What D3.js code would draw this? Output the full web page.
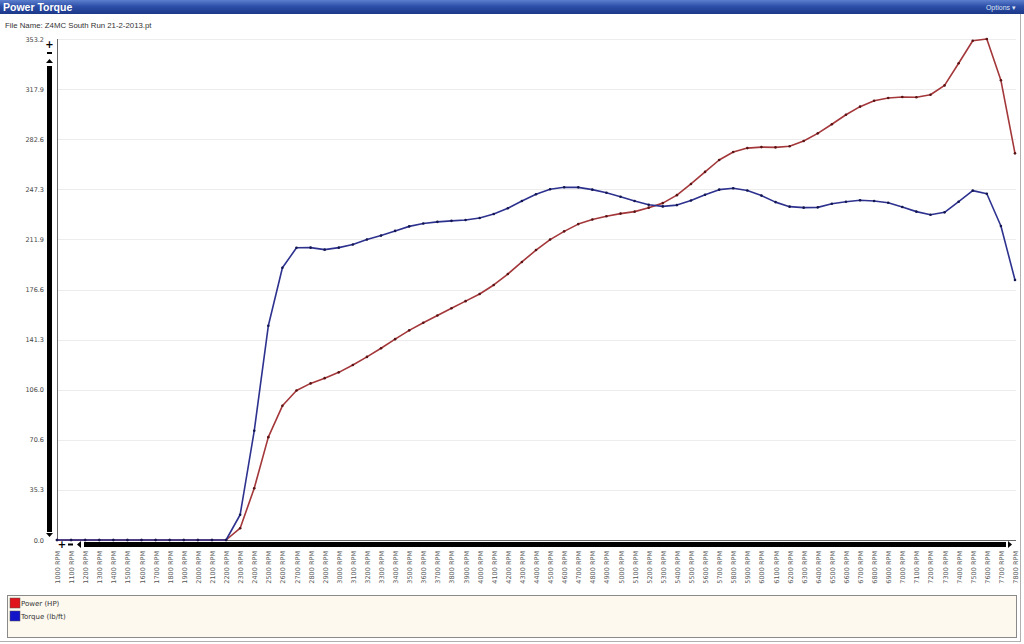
<!DOCTYPE html>
<html>
<head>
<meta charset="utf-8">
<script src="https://cdn.jsdelivr.net/npm/d3@7"></script>
<style>
  body { margin: 0; background: #fff; }
  svg { display: block; font-family: "DejaVu Sans", Verdana, sans-serif; }
</style>
</head>
<body>
<div id="chart"></div>
<script>
// rpm categories
const rpm = [1000, 1100, 1200, 1300, 1400, 1500, 1600, 1700, 1800, 1900, 2000, 2100, 2200,
  2300, 2400, 2500, 2600, 2700, 2800, 2900, 3000, 3100, 3200, 3300, 3400, 3500, 3600, 3700,
  3800, 3900, 4000, 4100, 4200, 4300, 4400, 4500, 4600, 4700, 4800, 4900, 5000, 5100, 5200,
  5300, 5400, 5500, 5600, 5700, 5800, 5900, 6000, 6100, 6200, 6300, 6400, 6500, 6600, 6700,
  6800, 6900, 7000, 7100, 7200, 7300, 7400, 7500, 7600, 7700, 7800];

// power (HP)
const power = [0, 0, 0, 0, 0, 0, 0, 0, 0, 0, 0, 0, 0,
  8.3, 36.5, 72.5, 94.6, 105.4, 110.4, 114.1, 118.2, 123.4, 129.1, 135.2, 141.6, 147.8, 153.2,
  158.3, 163.4, 168.4, 173.4, 179.8, 187.5, 196.0, 204.4, 211.8, 217.6, 222.7, 226.0, 228.2,
  230.1, 231.5, 234.3, 237.5, 243.1, 251.0, 259.5, 267.9, 273.5, 276.3, 277.0, 276.8, 277.6,
  281.3, 286.7, 293.1, 299.8, 305.5, 309.7, 311.6, 312.3, 312.1, 313.9, 320.5, 336.1, 352.0,
  353.2, 324.1, 272.6];

// torque (lb/ft)
const torque = [0, 0, 0, 0, 0, 0, 0, 0, 0, 0, 0, 0, 0,
  17.8, 77.0, 151.0, 191.9, 206.0, 206.1, 204.7, 206.1, 208.3, 211.8, 214.6, 217.9, 221.1, 223.1,
  224.3, 225.0, 225.6, 227.0, 229.8, 233.9, 239.0, 243.8, 247.3, 248.7, 248.6, 247.0, 244.8,
  242.0, 239.0, 236.4, 235.2, 236.1, 239.3, 243.4, 247.0, 248.0, 246.4, 242.8, 238.2, 235.0,
  234.3, 234.5, 237.1, 238.5, 239.5, 239.0, 237.8, 234.8, 231.5, 229.3, 231.0, 238.5, 246.3,
  244.1, 221.4, 183.3];

// y tick labels
const yTicks = [0, 35.32, 70.64, 105.96, 141.28, 176.6, 211.92, 247.24, 282.56, 317.88, 353.2];
const yLabels = ["0.0", "35.3", "70.6", "106.0", "141.3", "176.6", "211.9", "247.3", "282.6", "317.9", "353.2"];

const seriesNames = ["Power (HP)", "Torque (lb/ft)"];

const width = 1024, height = 644;
const plotLeft = 57, plotRight = 1015, plotTop = 39, plotBottom = 540;

const svg = d3.select("#chart").append("svg")
  .attr("width", width)
  .attr("height", height);

// title bar gradient
const defs = svg.append("defs");
const grad = defs.append("linearGradient").attr("id", "titlebar")
  .attr("x1", 0).attr("y1", 0).attr("x2", 0).attr("y2", 1);
grad.append("stop").attr("offset", "0%").attr("stop-color", "#5d7fce");
grad.append("stop").attr("offset", "45%").attr("stop-color", "#2d4fa8");
grad.append("stop").attr("offset", "100%").attr("stop-color", "#1c3888");

svg.append("rect")
  .attr("x", 0).attr("y", 0)
  .attr("width", width).attr("height", 14)
  .attr("fill", "url(#titlebar)");

svg.append("text")
  .attr("x", 3).attr("y", 11)
  .attr("fill", "#fff")
  .attr("font-family", "Liberation Sans, Arial, sans-serif")
  .attr("font-size", 10.5)
  .attr("font-weight", "bold")
  .text("Power Torque");

svg.append("text")
  .attr("x", 1016).attr("y", 10)
  .attr("text-anchor", "end")
  .attr("fill", "#dfe6f7")
  .attr("font-family", "Liberation Sans, Arial, sans-serif")
  .attr("font-size", 7)
  .text("Options \u25BE");

// frame lines
svg.append("line")
  .attr("x1", 1020.5).attr("x2", 1020.5).attr("y1", 14).attr("y2", 641)
  .attr("stroke", "#b0b0b0");
svg.append("line")
  .attr("x1", 0).attr("x2", 1021).attr("y1", 641.5).attr("y2", 641.5)
  .attr("stroke", "#b0b0b0");

// file name
svg.append("text")
  .attr("x", 5).attr("y", 28)
  .attr("fill", "#333")
  .attr("font-family", "Liberation Sans, Arial, sans-serif")
  .attr("font-size", 7.8)
  .text("File Name: Z4MC South Run 21-2-2013.pt");

// scales
const x = d3.scalePoint()
  .domain(rpm)
  .range([plotLeft, plotRight]);

const y = d3.scaleLinear()
  .domain([0, 353.2])
  .range([plotBottom, plotTop]);

// grid lines
svg.append("g")
  .selectAll("line")
  .data(yTicks)
  .enter()
  .append("line")
  .attr("x1", plotLeft).attr("x2", 1016)
  .attr("y1", d => Math.round(y(d)) + 0.5)
  .attr("y2", d => Math.round(y(d)) + 0.5)
  .attr("stroke", "#ececec");

// y axis
const yAxis = svg.append("g")
  .attr("transform", "translate(" + 44 + ",0)")
  .call(d3.axisLeft(y).tickValues(yTicks).tickSize(0).tickPadding(0)
    .tickFormat((d, i) => yLabels[i]));
yAxis.select(".domain").remove();
yAxis.selectAll("text")
  .attr("font-size", 6.5)
  .attr("fill", "#444")
  .attr("font-family", "DejaVu Sans, sans-serif")
  .attr("text-anchor", "end")
  .attr("dy", "0.32em");

svg.append("line")
  .attr("x1", plotLeft + 0.5).attr("x2", plotLeft + 0.5).attr("y1", plotTop).attr("y2", plotBottom + 1)
  .attr("stroke", "#666");
svg.append("line")
  .attr("x1", plotLeft).attr("x2", 1016).attr("y1", plotBottom + 0.5).attr("y2", plotBottom + 0.5)
  .attr("stroke", "#666");

// x axis labels (rotated)
const xAxis = svg.append("g")
  .attr("transform", "translate(0," + 551 + ")")
  .call(d3.axisBottom(x).tickSize(0).tickPadding(0).tickFormat(d => d + " RPM"));
xAxis.select(".domain").remove();
xAxis.selectAll("text")
  .attr("font-size", 6.5)
  .attr("fill", "#555")
  .attr("font-family", "DejaVu Sans, sans-serif")
  .attr("text-anchor", "end")
  .attr("dy", null)
  .attr("y", 0)
  .attr("transform", "translate(2.5,0) rotate(-90)");

// vertical scroll control
svg.append("rect")
  .attr("x", 47).attr("y", 66).attr("width", 5).attr("height", 466)
  .attr("fill", "#000");
svg.append("text").attr("x", 49.5).attr("y", 48).attr("text-anchor", "middle")
  .attr("font-size", 10).attr("font-weight", "bold").text("+");
svg.append("rect").attr("x", 47).attr("y", 52).attr("width", 5).attr("height", 2).attr("fill", "#000");
svg.append("path").attr("d", "M46,63 L49.5,59 L53,63 Z").attr("fill", "#000");
svg.append("path").attr("d", "M46,533 L49.5,537 L53,533 Z").attr("fill", "#000");

// horizontal scroll control
svg.append("rect")
  .attr("x", 84).attr("y", 542).attr("width", 922).attr("height", 5)
  .attr("fill", "#000");
svg.append("text").attr("x", 62).attr("y", 548).attr("text-anchor", "middle")
  .attr("font-size", 10).attr("font-weight", "bold").text("+");
svg.append("rect").attr("x", 68).attr("y", 543.5).attr("width", 5).attr("height", 2).attr("fill", "#000");
svg.append("path").attr("d", "M81,541 L77,544.5 L81,548 Z").attr("fill", "#000");
svg.append("path").attr("d", "M1008,541 L1012,544.5 L1008,548 Z").attr("fill", "#000");

// lines
const colors = ["#a3373a", "#2e328f"];
const markerColors = ["#5a1416", "#14164f"];
const seriesData = [power, torque];

const line = d3.line()
  .x((d, i) => x(rpm[i]))
  .y(d => y(d));

seriesData.forEach(function(vals, k) {
  svg.append("path")
    .datum(vals)
    .attr("fill", "none")
    .attr("stroke", colors[k])
    .attr("stroke-width", 1.6)
    .attr("stroke-linejoin", "round")
    .attr("d", line);

  svg.append("g")
    .selectAll("circle")
    .data(vals)
    .enter()
    .append("circle")
    .attr("cx", (d, i) => x(rpm[i]))
    .attr("cy", d => y(d))
    .attr("r", 1.3)
    .attr("fill", markerColors[k]);
});

// legend
svg.append("rect")
  .attr("x", 7.5).attr("y", 595.5).attr("width", 1009).attr("height", 42)
  .attr("fill", "#fdf9ef")
  .attr("stroke", "#8a8a8a");

const legendColors = ["#e0141c", "#1414c8"];
const legend = svg.append("g")
  .selectAll("g")
  .data(seriesNames)
  .enter()
  .append("g")
  .attr("transform", (d, i) => "translate(10," + (598 + i * 13) + ")");

legend.append("rect")
  .attr("width", 10).attr("height", 10)
  .attr("fill", (d, i) => legendColors[i])
  .attr("stroke", "#555")
  .attr("stroke-width", 0.5);

legend.append("text")
  .attr("x", 11).attr("y", 8)
  .attr("font-size", 7)
  .attr("fill", "#333")
  .text(d => d);
</script>
</body>
</html>
